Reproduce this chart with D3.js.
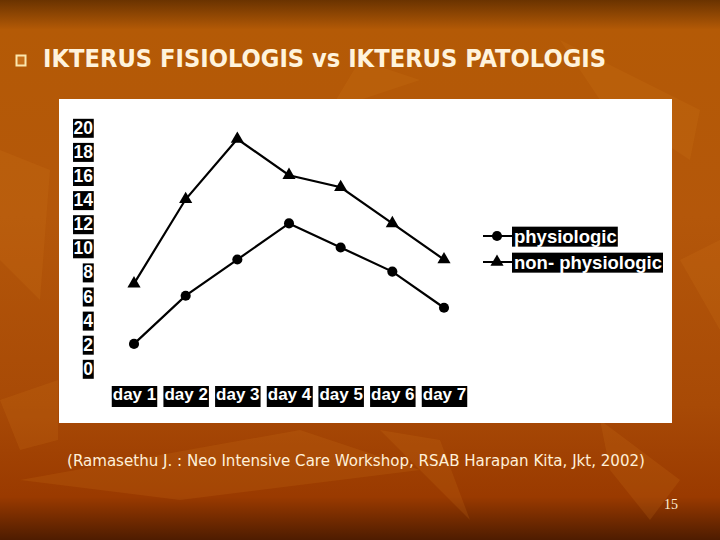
<!DOCTYPE html>
<html>
<head>
<meta charset="utf-8">
<script src="https://cdn.jsdelivr.net/npm/d3@7/dist/d3.min.js"></script>
<style>
  html, body { margin: 0; padding: 0; background: #000; }
  svg { display: block; }
</style>
</head>
<body>
<svg id="chart" width="720" height="540"></svg>
<script>
// ---- data ----
const days = ["day 1", "day 2", "day 3", "day 4", "day 5", "day 6", "day 7"];
const physiologic = [2, 6, 9, 12, 10, 8, 5];
const nonPhysiologic = [7, 14, 19, 16, 15, 12, 9];
const yTicks = [0, 2, 4, 6, 8, 10, 12, 14, 16, 18, 20];
const seriesNames = ["physiologic", "non- physiologic"];
const titleText = "IKTERUS FISIOLOGIS vs IKTERUS PATOLOGIS";
const sourceText = "(Ramasethu J. : Neo Intensive Care Workshop, RSAB Harapan Kita, Jkt, 2002)";
const pageNumber = "15";

const svg = d3.select("#chart");
const W = 720, H = 540;

// ---- background ----
const defs = svg.append("defs");
const bg = defs.append("linearGradient").attr("id", "bg").attr("x1", 0).attr("y1", 0).attr("x2", 0).attr("y2", 1);
[[0, "#6a3300"], [0.055, "#b45a06"], [0.4, "#b4570a"], [0.75, "#a84a06"], [0.92, "#9a3a00"], [1, "#4e1c00"]]
  .forEach(([o, c]) => bg.append("stop").attr("offset", o).attr("stop-color", c));
svg.append("rect").attr("width", W).attr("height", H).attr("fill", "url(#bg)");

// subtle leaf shapes
const leaves = [
  [[20, 480], [300, 430], [420, 470], [180, 500]],
  [[380, 430], [470, 520], [440, 440]],
  [[600, 420], [680, 480], [650, 520], [610, 470]],
  [[0, 150], [50, 170], [40, 300], [0, 260]],
  [[560, 40], [700, 110], [690, 160], [600, 100]],
  [[360, 60], [420, 80], [330, 110]],
  [[680, 260], [720, 240], [720, 330]],
  [[0, 400], [58, 380], [58, 440], [20, 450]]
];
svg.append("g").selectAll("path").data(leaves).join("path")
  .attr("d", d => "M" + d.map(p => p.join(",")).join("L") + "Z")
  .attr("fill", "#d07a1a").attr("opacity", 0.18);

// ---- title ----
svg.append("rect").attr("x", 16.5).attr("y", 55.5).attr("width", 9).attr("height", 10)
  .attr("fill", "#c8701a").attr("stroke", "#fbe7ae").attr("stroke-width", 2);
svg.append("text").attr("x", 43).attr("y", 67)
  .attr("font-family", "'DejaVu Sans Condensed', 'DejaVu Sans', sans-serif")
  .attr("font-weight", "bold").attr("font-size", 25)
  .attr("fill", "#fff3dc")
  .attr("textLength", 563).attr("lengthAdjust", "spacingAndGlyphs")
  .text(titleText);

// ---- panel ----
svg.append("rect").attr("x", 59).attr("y", 99).attr("width", 613).attr("height", 324).attr("fill", "#ffffff");

// ---- scales ----
const x = d3.scalePoint().domain(days).range([134, 444]);
const y = d3.scaleLinear().domain([0, 20]).range([368, 127]);

const labelFont = "'Liberation Sans', Arial, sans-serif";

// y axis labels
const yAxis = svg.append("g").attr("transform", "translate(93,0)")
  .call(d3.axisLeft(y).tickValues(yTicks).tickSize(0).tickPadding(0).tickFormat(d3.format("d")));
yAxis.select(".domain").remove();
yAxis.selectAll("text").attr("font-family", labelFont).attr("font-weight", "bold")
  .attr("font-size", 17.5).attr("fill", "#fff").attr("dy", "0.36em");
yAxis.selectAll(".tick").each(function () {
  const t = d3.select(this).select("text");
  const b = t.node().getBBox();
  d3.select(this).insert("rect", "text")
    .attr("x", b.x - 0.5).attr("y", b.y + 1).attr("width", b.width + 1).attr("height", b.height - 1)
    .attr("fill", "#000");
});

// x axis labels
const xAxis = svg.append("g").attr("transform", "translate(0,386)")
  .call(d3.axisBottom(x).tickSize(0).tickPadding(0));
xAxis.select(".domain").remove();
xAxis.selectAll("text").attr("font-family", labelFont).attr("font-weight", "bold")
  .attr("font-size", 17).attr("fill", "#fff").attr("dy", "0.85em").attr("y", 0);
xAxis.selectAll(".tick").each(function () {
  const t = d3.select(this).select("text");
  const b = t.node().getBBox();
  d3.select(this).insert("rect", "text")
    .attr("x", b.x - 1).attr("y", 0).attr("width", b.width + 2).attr("height", 21)
    .attr("fill", "#000");
});

// ---- series ----
const line = d3.line().x((d, i) => x(days[i])).y(d => y(d));
const series = [
  { name: seriesNames[0], values: physiologic, symbol: d3.symbolCircle, size: 80 },
  { name: seriesNames[1], values: nonPhysiologic, symbol: d3.symbolTriangle, size: 75 }
];
series.forEach(s => {
  svg.append("path").datum(s.values).attr("d", line)
    .attr("fill", "none").attr("stroke", "#000").attr("stroke-width", 2.2);
  svg.append("g").selectAll("path").data(s.values).join("path")
    .attr("transform", (d, i) => `translate(${x(days[i])},${y(d)})`)
    .attr("d", d3.symbol().type(s.symbol).size(s.size)())
    .attr("fill", "#000");
});

// ---- legend ----
const legend = svg.append("g");
series.forEach((s, i) => {
  const ly = 236 + i * 26;
  legend.append("line").attr("x1", 483).attr("x2", 512).attr("y1", ly).attr("y2", ly)
    .attr("stroke", "#000").attr("stroke-width", 2);
  legend.append("path").attr("transform", `translate(497,${ly})`)
    .attr("d", d3.symbol().type(s.symbol).size(s.size)()).attr("fill", "#000");
  const bgRect = legend.append("rect").attr("fill", "#000");
  const t = legend.append("text").attr("x", 514).attr("y", ly).attr("dy", "0.36em")
    .attr("font-family", labelFont).attr("font-weight", "bold").attr("font-size", 18.5)
    .attr("fill", "#fff").text(s.name);
  const b = t.node().getBBox();
  bgRect.attr("x", 512).attr("y", b.y + 1).attr("width", b.width + 3).attr("height", b.height - 1);
});

// ---- footnote and page number ----
svg.append("text").attr("x", 67).attr("y", 466)
  .attr("font-family", "'DejaVu Sans Condensed', 'DejaVu Sans', sans-serif")
  .attr("font-size", 15).attr("fill", "#fff0d8")
  .attr("textLength", 578).attr("lengthAdjust", "spacingAndGlyphs")
  .text(sourceText);
svg.append("text").attr("x", 664).attr("y", 509)
  .attr("font-family", "'Liberation Serif', 'Times New Roman', serif")
  .attr("font-size", 14).attr("fill", "#fff0d8")
  .text(pageNumber);
</script>
</body>
</html>
